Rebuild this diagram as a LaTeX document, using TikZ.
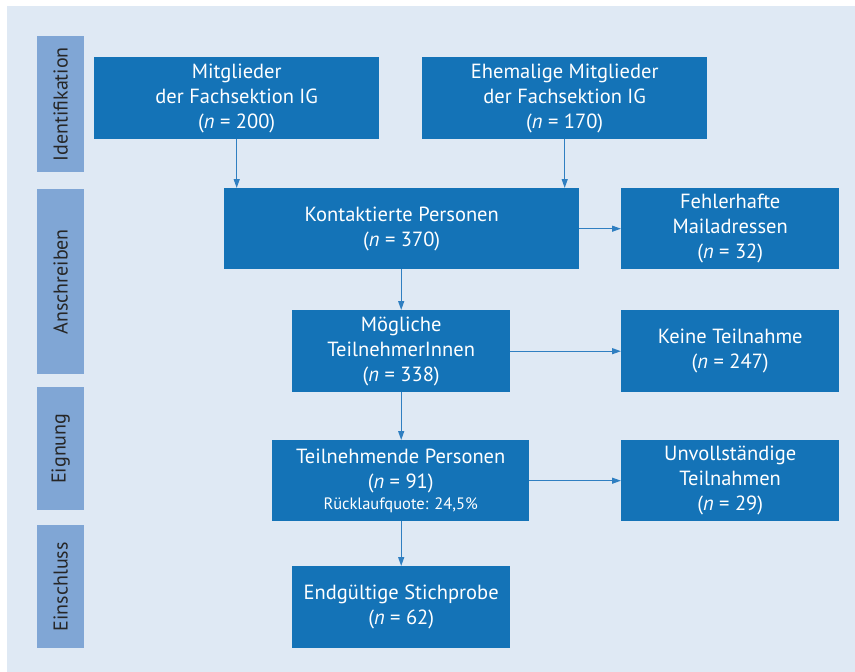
\documentclass[tikz,border=0pt]{standalone}
\usepackage{fontspec}
\setmainfont{PT Sans}
\usepackage{xcolor}
\usetikzlibrary{arrows.meta, positioning}

\definecolor{bgblue}{HTML}{DFE9F4}
\definecolor{boxblue}{HTML}{1473B7}
\definecolor{phaseblue}{HTML}{80A6D5}
\definecolor{lineblue}{HTML}{2F7FC1}

\tikzset{
  box/.style={fill=boxblue, text=white, anchor=north west, align=center,
    inner sep=0pt, font=\fontsize{20.5}{25}\selectfont},
  phase/.style={fill=phaseblue, anchor=north west, inner sep=0pt, minimum width=47pt},
  phasetext/.style={rotate=90, text=black!85, font=\fontsize{20}{22}\selectfont},
  arr/.style={draw=lineblue, line width=1.3pt, -{Triangle[length=9pt, width=6pt]}}
}

\newcommand{\nval}[1]{(\textit{n} = #1)}

\begin{document}
\begin{tikzpicture}[x=1pt, y=-1pt]
\useasboundingbox (0,0) rectangle (855,672);
\fill[bgblue] (7,6) rectangle (855,672);

\node[phase, minimum height=136pt] (ident) at (37,36) {};
\node[phasetext] at (ident.center) {Identifikation};
\node[phase, minimum height=185pt] (ansch) at (37,189) {};
\node[phasetext] at (ansch.center) {Anschreiben};
\node[phase, minimum height=123pt] (eign) at (37,387) {};
\node[phasetext] at (eign.center) {Eignung};
\node[phase, minimum height=123pt] (einschl) at (37,525) {};
\node[phasetext] at (einschl.center) {Einschluss};

\node[box, minimum width=285pt, minimum height=82pt] (mitgl) at (94,57)
  {Mitglieder\\der Fachsektion IG\\\nval{200}};
\node[box, minimum width=285pt, minimum height=82pt] (ehem) at (422,57)
  {Ehemalige Mitglieder\\der Fachsektion IG\\\nval{170}};
\node[box, minimum width=355pt, minimum height=81pt] (kontakt) at (224,188)
  {Kontaktierte Personen\\\nval{370}};
\node[box, minimum width=218pt, minimum height=81pt] (fehler) at (621,188)
  {Fehlerhafte\\Mailadressen\\\nval{32}};
\node[box, minimum width=218pt, minimum height=82pt] (moegl) at (292,310)
  {Mögliche\\TeilnehmerInnen\\\nval{338}};
\node[box, minimum width=218pt, minimum height=82pt] (keine) at (621,310)
  {Keine Teilnahme\\\nval{247}};
\node[box, minimum width=257pt, minimum height=81pt] (teiln) at (272,440)
  {Teilnehmende Personen\\\nval{91}\\[-4pt]{\fontsize{16.5}{19}\selectfont Rücklaufquote: 24,5\%}};
\node[box, minimum width=218pt, minimum height=81pt] (unvoll) at (621,440)
  {Unvollständige\\Teilnahmen\\\nval{29}};
\node[box, minimum width=218pt, minimum height=82pt] (endg) at (292,566)
  {Endgültige Stichprobe\\\nval{62}};

\draw[arr] (mitgl.south) -- (mitgl.south |- kontakt.north);
\draw[arr] (ehem.south) -- (ehem.south |- kontakt.north);
\draw[arr] (kontakt.east) -- (fehler.west);
\draw[arr] (moegl.north |- kontakt.south) -- (moegl.north);
\draw[arr] (moegl.east) -- (keine.west);
\draw[arr] (moegl.south) -- (moegl.south |- teiln.north);
\draw[arr] (teiln.east) -- (unvoll.west);
\draw[arr] (moegl.south |- teiln.south) -- (endg.north);
\end{tikzpicture}
\end{document}
